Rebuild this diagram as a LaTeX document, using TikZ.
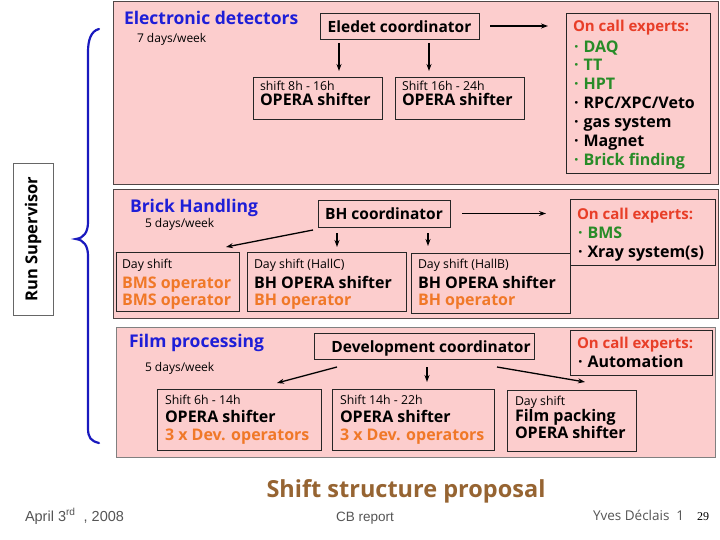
\documentclass[tikz,border=0pt]{standalone}
\usepackage{fontspec}
\setmainfont{Open Sans}
\newfontfamily\footfont{Liberation Sans}
\newfontfamily\numfont{Liberation Serif}
\usetikzlibrary{calc,arrows.meta}
\definecolor{pinkbg}{RGB}{252,205,205}
\definecolor{hblue}{RGB}{30,30,215}
\definecolor{ored}{RGB}{232,62,40}
\definecolor{ogreen}{RGB}{40,140,40}
\definecolor{oorange}{RGB}{240,120,40}
\definecolor{tbrown}{RGB}{150,100,50}
\definecolor{bordgray}{RGB}{80,70,70}
\definecolor{footgray}{RGB}{85,85,85}
\definecolor{braceblue}{RGB}{25,25,190}
\newcommand\bul{\textbf{·}\hspace{5pt}}
\tikzset{
  panel/.style={draw=bordgray, fill=pinkbg, line width=1pt, anchor=north west, inner sep=0pt, outer sep=0pt},
  ibox/.style={draw=black!85, fill=pinkbg, line width=0.8pt, anchor=north west, inner sep=0pt, outer sep=0pt},
  txt/.style={anchor=base west, inner sep=0pt, outer sep=0pt},
  ctxt/.style={anchor=base, inner sep=0pt, outer sep=0pt},
  heading/.style={txt, text=hblue, font=\fontsize{17.5}{20}\selectfont\bfseries},
  small/.style={txt, font=\fontsize{12.3}{14}\selectfont},
  big/.style={txt, font=\fontsize{16}{18}\selectfont\bfseries},
  arr/.style={-{Stealth[length=7pt,width=5pt]}, line width=1.3pt, black},
}
\begin{document}
\begin{tikzpicture}[x=1pt,y=-1pt]
\useasboundingbox (0,0) rectangle (720,540);
\fill[white] (0,0) rectangle (720,540);

% ---------- Panel 1 ----------
\node[panel, minimum width=605pt, minimum height=183pt] (p1) at (113,2) {};
\node[heading] (p1h) at (124,25) {Electronic detectors};
\node[small, font=\fontsize{12}{13}\selectfont] (p1d) at (137,43) {7 days/week};
\node[ibox, minimum width=159pt, minimum height=26pt] (eled) at (320,13) {};
\node[ctxt, font=\fontsize{15.5}{18}\selectfont\bfseries] (eledt) at (399.5,33) {Eledet coordinator};
\node[ibox, minimum width=129pt, minimum height=42pt] (s1) at (253,77) {};
\node[small] (s1a) at (260,91) {shift 8h - 16h};
\node[big] (s1b) at (260,106) {OPERA shifter};
\node[ibox, minimum width=129pt, minimum height=42pt] (s2) at (395,77) {};
\node[small] (s2a) at (402,91) {Shift 16h - 24h};
\node[big] (s2b) at (402,106) {OPERA shifter};
\node[ibox, minimum width=144pt, minimum height=160pt] (oc1) at (566,13) {};
\node[big, text=ored, font=\fontsize{15}{18}\selectfont\bfseries] (oc1t) at (573,32) {On call experts:};
\node[big, text=ogreen] (oc1a) at (574,53) {\bul DAQ};
\node[big, text=ogreen] (oc1b) at (574,71) {\bul TT};
\node[big, text=ogreen] (oc1c) at (574,90) {\bul HPT};
\node[big] (oc1d) at (574,109) {\bul RPC/XPC/Veto};
\node[big] (oc1e) at (574,128) {\bul gas system};
\node[big] (oc1f) at (574,147) {\bul Magnet};
\node[big, text=ogreen] (oc1g) at (574,166) {\bul Brick finding};
\draw[arr, shorten <=11pt, shorten >=18pt] (eled.east) -- (eled.east -| oc1.west);
\draw[arr, shorten <=4pt, shorten >=6pt] ($(eled.south west)+(19,0)$) -- ($(s1.north west)+(86,0)$);
\draw[arr, shorten <=4pt, shorten >=6pt] ($(eled.south west)+(109,0)$) -- ($(s2.north west)+(34,0)$);

% ---------- Panel 2 ----------
\node[panel, minimum width=605pt, minimum height=128pt] (p2) at (113,190) {};
\node[heading] (p2h) at (130,213) {Brick Handling};
\node[small, font=\fontsize{12}{13}\selectfont] (p2d) at (145,228) {5 days/week};
\node[ibox, minimum width=132pt, minimum height=27pt] (bh) at (318,200) {};
\node[ctxt, font=\fontsize{15.5}{18}\selectfont\bfseries] (bht) at (384,219) {BH coordinator};
\node[ibox, minimum width=123pt, minimum height=59pt] (d1) at (116,252) {};
\node[small] (d1a) at (122,268) {Day shift};
\node[big, text=oorange] (d1b) at (122,288) {BMS operator};
\node[big, text=oorange] (d1c) at (122,305) {BMS operator};
\node[ibox, minimum width=159pt, minimum height=59pt] (d2) at (247,252) {};
\node[small] (d2a) at (254,268) {Day shift (HallC)};
\node[big] (d2b) at (254,288) {BH OPERA shifter};
\node[big, text=oorange] (d2c) at (254,305) {BH operator};
\node[ibox, minimum width=159pt, minimum height=60pt] (d3) at (411,253) {};
\node[small] (d3a) at (418,268) {Day shift (HallB)};
\node[big] (d3b) at (418,288) {BH OPERA shifter};
\node[big, text=oorange] (d3c) at (418,305) {BH operator};
\node[ibox, minimum width=145pt, minimum height=66pt] (oc2) at (570,199) {};
\node[big, text=ored, font=\fontsize{15}{18}\selectfont\bfseries] (oc2t) at (577,219) {On call experts:};
\node[big, text=ogreen] (oc2a) at (578,238) {\bul BMS};
\node[big] (oc2b) at (578,257) {\bul Xray system(s)};
\draw[arr, shorten <=12pt, shorten >=24pt] (bh.east) -- (bh.east -| oc2.west);
\draw[arr] ($(bh.south west)+(-5,3)$) -- ($(d1.north east)+(-13,-5)$);
\draw[arr, shorten <=6pt, shorten >=5pt] ($(bh.south west)+(19,0)$) -- ($(d2.north west)+(90,0)$);
\draw[arr, shorten <=6pt, shorten >=7pt] ($(bh.south west)+(110,0)$) -- ($(d3.north west)+(17,0)$);

% ---------- Panel 3 ----------
\node[panel, draw=gray, minimum width=599pt, minimum height=130pt] (p3) at (116,327) {};
\node[heading] (p3h) at (129,347) {Film processing};
\node[small, font=\fontsize{12}{13}\selectfont] (p3d) at (145,371) {5 days/week};
\node[ibox, minimum width=220pt, minimum height=26pt] (dev) at (314,333) {};
\node[ctxt, font=\fontsize{15.5}{18}\selectfont\bfseries] (devt) at (431,352) {Development coordinator};
\node[ibox, minimum width=142pt, minimum height=45pt] (oc3) at (570,330) {};
\node[big, text=ored, font=\fontsize{15}{18}\selectfont\bfseries] (oc3t) at (577,348) {On call experts:};
\node[big] (oc3a) at (578,367) {\bul Automation};
\node[ibox, minimum width=164pt, minimum height=61pt] (f1) at (157,389) {};
\node[small] (f1a) at (165,404) {Shift 6h - 14h};
\node[big] (f1b) at (165,422) {OPERA shifter};
\node[big, text=oorange] (f1c) at (165,440) {3 x Dev. operators};
\node[ibox, minimum width=162pt, minimum height=61pt] (f2) at (332,389) {};
\node[small] (f2a) at (340,404) {Shift 14h - 22h};
\node[big] (f2b) at (340,422) {OPERA shifter};
\node[big, text=oorange] (f2c) at (340,440) {3 x Dev. operators};
\node[ibox, minimum width=129pt, minimum height=61pt] (f3) at (507,390) {};
\node[small] (f3a) at (515,405) {Day shift};
\node[big] (f3b) at (515,421) {Film packing};
\node[big] (f3c) at (515,438) {OPERA shifter};
\draw[arr] ($(dev.south west)+(23,8)$) -- ($(f1.north west)+(120,-6)$);
\draw[arr, shorten <=8pt, shorten >=7pt] ($(dev.south west)+(113,0)$) -- ($(f2.north west)+(95,0)$);
\draw[arr] ($(dev.south west)+(183,8)$) -- ($(f3.north west)+(78,-8)$);

% ---------- Run supervisor + brace ----------
\node[draw=gray!80!black, fill=white, line width=0.8pt, rotate=90, minimum width=152pt, minimum height=40pt, inner sep=0pt, font=\fontsize{16.5}{18}\selectfont\bfseries] (rs) at (33,239) {Run Supervisor};
\draw[braceblue, line width=2.2pt, line cap=round]
  (99,29) .. controls (91,31) and (88,40) .. (88,52) -- (88,222)
  .. controls (88,232) and (84,238) .. (76,239)
  .. controls (84,240) and (88,246) .. (88,256) -- (88,428)
  .. controls (88,438) and (91,441) .. (99,443);

% ---------- Footer ----------
\node[ctxt, text=tbrown, font=\fontsize{23.5}{26}\selectfont\bfseries] (title) at (406,497) {Shift structure proposal};
\node[txt, text=footgray, font=\footfont\fontsize{14.5}{16}\selectfont] (date) at (25,521) {April 3\textsuperscript{rd}\ \ , 2008};
\node[ctxt, text=footgray, font=\footfont\fontsize{13.5}{15}\selectfont] (cb) at (365,521) {CB report};
\node[txt, text=footgray, font=\fontsize{13.5}{15}\selectfont] (auth) at (593,520) {Yves Déclais\ \ 1};
\node[txt, font=\numfont\fontsize{12}{14}\selectfont] (pg) at (697,520) {29};
\end{tikzpicture}
\end{document}
